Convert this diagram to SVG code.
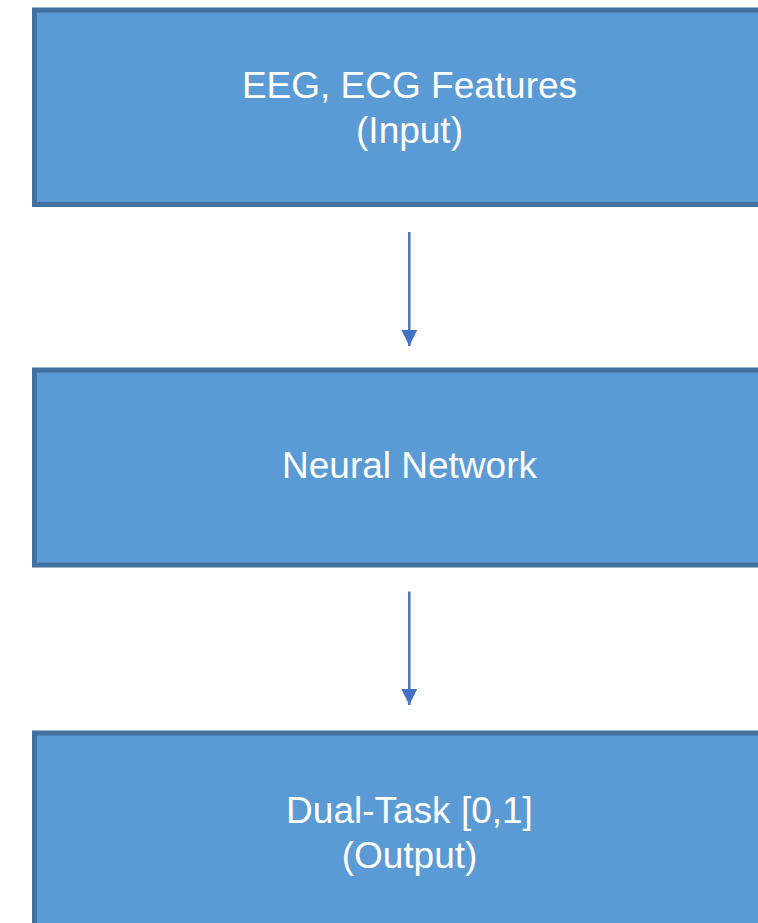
<svg xmlns="http://www.w3.org/2000/svg" width="758" height="923" viewBox="0 0 758 923">
<style>
.box{fill:#5B9BD5;stroke:#41719C;stroke-width:5}
.lbl{font-family:"Liberation Sans",Arial,sans-serif;font-size:37px;fill:#FFFFFF;text-anchor:middle}
.con{stroke:#4472C4;stroke-width:2.5;fill:none}
</style>
<defs>
<marker id="ah" markerUnits="userSpaceOnUse" markerWidth="16" markerHeight="16" refX="16" refY="8" orient="auto">
<path d="M0,0 L16,8 L0,16 Z" fill="#4472C4"/>
</marker>
</defs>
<rect width="758" height="923" fill="#FFFFFF"/>
<g id="node-input">
<rect class="box" x="34.5" y="10" width="749" height="194.5"/>
<text class="lbl" x="409.5" y="98">EEG, ECG Features</text>
<text class="lbl" x="409.5" y="143">(Input)</text>
</g>
<g id="node-nn">
<rect class="box" x="34.5" y="370" width="749" height="195"/>
<text class="lbl" x="409.5" y="478">Neural Network</text>
</g>
<g id="node-output">
<rect class="box" x="34.5" y="733" width="749" height="195"/>
<text class="lbl" x="409.5" y="823">Dual-Task [0,1]</text>
<text class="lbl" x="409.5" y="868">(Output)</text>
</g>
<g id="connectors">
<line class="con" x1="409.3" y1="232" x2="409.3" y2="346" marker-end="url(#ah)"/>
<line class="con" x1="409.3" y1="591.5" x2="409.3" y2="705" marker-end="url(#ah)"/>
</g>
</svg>
